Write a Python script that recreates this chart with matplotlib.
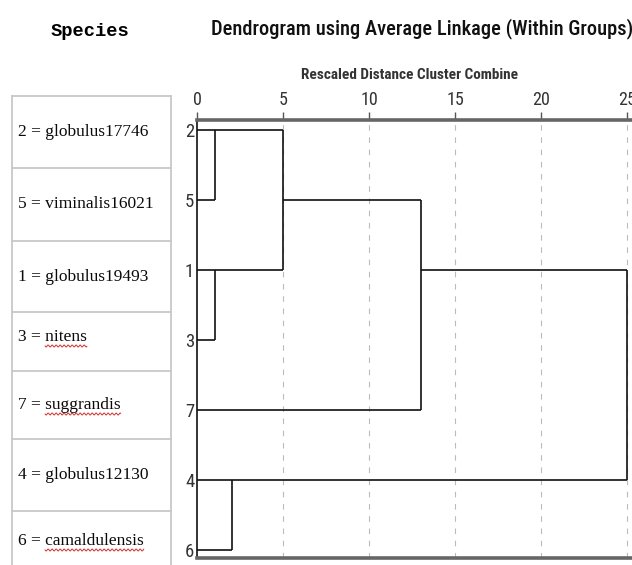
import matplotlib
matplotlib.use("Agg")
import matplotlib.pyplot as plt
from matplotlib import font_manager
import numpy as np

# leaf order top to bottom and their species names
leaf_ids = ["2", "5", "1", "3", "7", "4", "6"]
species = ["globulus17746", "viminalis16021", "globulus19493", "nitens",
           "suggrandis", "globulus12130", "camaldulensis"]
misspelled = ["nitens", "suggrandis", "camaldulensis"]

# merges: (new cluster, child a, child b, rescaled distance, row of new cluster)
# children are leaf rows (int) or earlier cluster names
merges = [
    ("A", 0, 1, 1.05, 0),
    ("B", 2, 3, 1.05, 2),
    ("C", "A", "B", 5.0, 1),
    ("D", "C", 4, 13.0, 2),
    ("E", 5, 6, 2.05, 5),
    ("F", "D", "E", 25.0, 2),
]
ticks = [0, 5, 10, 15, 20, 25]


def pick_narrow():
    # look for an installed condensed sans face, else plain Liberation Sans
    names = {f.name for f in font_manager.fontManager.ttflist}
    for cand in ["Liberation Sans Narrow", "Arial Narrow", "Roboto Condensed",
                 "Open Sans Condensed", "DejaVu Sans Condensed"]:
        if cand in names:
            return cand, 1.0
    for f in font_manager.fontManager.ttflist:
        if "Condensed" in f.name or "Narrow" in f.name:
            return f.name, 1.0
    return "Liberation Sans", 0.86


narrow, shrink = pick_narrow()

W, H = 632, 565
fig = plt.figure(figsize=(W / 100, H / 100), dpi=100)

# pixel-space background axes for the species table and headings
bg = fig.add_axes([0, 0, 1, 1])
bg.set_xlim(0, W)
bg.set_ylim(H, 0)
bg.axis("off")

bg.text(90, 31, "Species", family="Liberation Mono", weight="bold",
        fontsize=13.5, ha="center", va="center")
bg.text(422, 29, "Dendrogram using Average Linkage (Within Groups)",
        family=narrow, fontsize=14.8 * shrink, ha="center", va="center",
        color="#111111", weight="medium")
bg.text(410, 75, "Rescaled Distance Cluster Combine", family=narrow,
        weight="bold", fontsize=11 * shrink, ha="center", va="center",
        color="#333333")

# table of species
grid = "#c8c8c8"
row_edges = [96, 168, 241, 312, 371, 439, 511, 570]
bg.plot([12, 12], [96, 570], color=grid, lw=1.3)
bg.plot([171, 171], [96, 570], color=grid, lw=1.3)
for y in row_edges[:-1]:
    bg.plot([12, 171], [y, y], color=grid, lw=1.3)

text_y = [132, 204, 277, 337, 405, 475, 541]
fig.canvas.draw()
renderer = fig.canvas.get_renderer()
for lid, name, ty in zip(leaf_ids, species, text_y):
    prefix = f"{lid} = "
    t = bg.text(18, ty, prefix + name, family="Liberation Serif",
                fontsize=12.5, ha="left", va="center", color="#0a0a0a")
    if name in misspelled:
        tp = bg.text(18, ty, prefix, family="Liberation Serif", fontsize=12.5,
                     ha="left", va="center", alpha=0)
        full = t.get_window_extent(renderer)
        pre = tp.get_window_extent(renderer)
        x0 = full.x0 + pre.width
        xs = np.linspace(x0, full.x1, 200)
        ys = ty + 9 + 1.0 * np.sin((xs - x0) * 2 * np.pi / 4)
        bg.plot(xs, ys, color="#d03030", lw=0.7)

# dendrogram axes: x 0..25 spans px 197..627, rows at 130 + 70*i
px_per = (627 - 197) / 25
ax = fig.add_axes([197 / W, 1 - 558 / H, (W - 197) / W, (558 - 120) / H])
ax.set_xlim(0, (W - 197) / px_per)
ax.set_ylim(6 + 8 / 70, -10 / 70)

for tk in ticks[1:]:
    ax.axvline(tk, color="#bbbbbb", lw=0.8, ls=(0, (5, 6)), zorder=0)

pos = {}
for name, a, b, h, row in merges:
    ys = []
    for c in (a, b):
        cx, cy = (0, c) if isinstance(c, int) else pos[c]
        ax.plot([cx, h], [cy, cy], color="#111111", lw=1.2, solid_capstyle="butt")
        ys.append(cy)
    ax.plot([h, h], ys, color="#111111", lw=1.2, solid_capstyle="butt")
    pos[name] = (h, row)

ax.set_yticks(range(len(leaf_ids)))
ax.set_yticklabels(leaf_ids, family=narrow, fontsize=13.5 * shrink, color="#333333")
ax.tick_params(axis="y", length=0, pad=2)
ax.xaxis.tick_top()
ax.set_xticks(ticks)
ax.set_xticklabels([str(t) for t in ticks], family=narrow,
                   fontsize=13 * shrink, color="#333333")
ax.tick_params(axis="x", length=6, width=1, color="#555555", pad=2)

for side in ("top", "bottom"):
    ax.spines[side].set_linewidth(2.6)
    ax.spines[side].set_color("#666666")
ax.spines["left"].set_linewidth(1.2)
ax.spines["left"].set_color("#111111")
ax.spines["right"].set_visible(False)

fig.savefig("out.png", dpi=100)
